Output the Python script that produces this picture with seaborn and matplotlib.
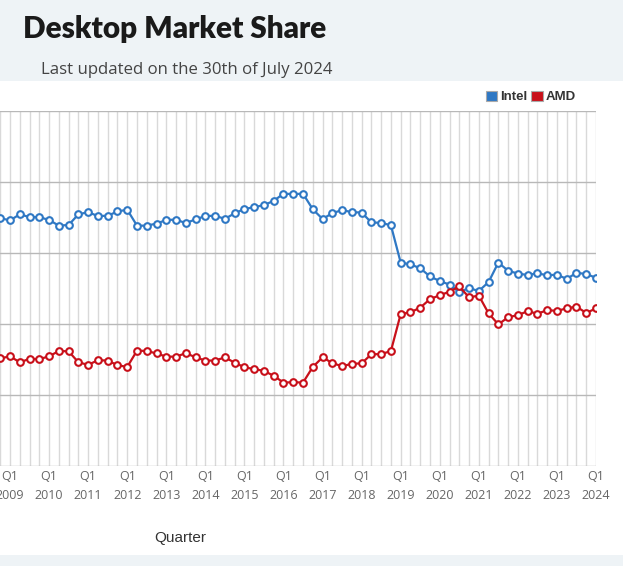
import pandas as pd
import numpy as np
import matplotlib.pyplot as plt
import seaborn as sns
from matplotlib.patches import Patch, Rectangle

# Quarterly desktop CPU share (%), Q4 2008 .. Q1 2024
quarters = ['Q4 2008'] + [f'Q{q} {y}' for y in range(2009, 2024) for q in (1, 2, 3, 4)] + ['Q1 2024']

intel = [69.8, 69.2, 70.9, 70.1, 70.1, 69.3, 67.7, 67.9, 70.9, 71.5,
         70.4, 70.5, 71.7, 72.2, 67.7, 67.7, 68.3, 69.3, 69.4, 68.4,
         69.5, 70.4, 70.5, 69.6, 71.2, 72.4, 72.9, 73.5, 74.7, 76.7,
         76.6, 76.7, 72.3, 69.6, 71.2, 72.1, 71.5, 71.4, 68.6, 68.5,
         67.8, 57.3, 56.8, 55.7, 53.4, 52.1, 51.1, 49.0, 50.1, 49.3,
         51.8, 57.3, 55.0, 54.2, 53.8, 54.3, 53.7, 53.9, 52.7, 54.4,
         54.1, 53.0]

amd = [30.3, 30.9, 29.2, 30.2, 30.1, 30.9, 32.4, 32.3, 29.2, 28.5,
       29.8, 29.7, 28.4, 27.9, 32.5, 32.4, 31.7, 30.8, 30.8, 31.8,
       30.6, 29.7, 29.7, 30.6, 29.1, 27.8, 27.3, 26.8, 25.4, 23.5,
       23.6, 23.5, 27.9, 30.6, 29.0, 28.1, 28.8, 28.9, 31.5, 31.5,
       32.4, 42.8, 43.3, 44.6, 47.0, 48.1, 49.1, 50.6, 47.5, 48.0,
       43.0, 39.9, 41.9, 42.5, 43.6, 42.9, 43.9, 43.7, 44.4, 44.9,
       43.1, 44.4]

brands = ['Intel', 'AMD']
colors = {'Intel': '#2f78c4', 'AMD': '#c8101a'}

df = pd.DataFrame({
    'idx': list(range(len(quarters))) * 2,
    'quarter': quarters * 2,
    'brand': ['Intel'] * len(intel) + ['AMD'] * len(amd),
    'share': intel + amd,
})

sns.set_style('white')
W, H = 623, 566
fig = plt.figure(figsize=(W / 100, H / 100), dpi=100)
fig.patch.set_facecolor('white')

# header / footer bands
fig.add_artist(Rectangle((0, 1 - 81 / H), 1, 81 / H, transform=fig.transFigure,
                         facecolor='#eef3f6', edgecolor='none', zorder=-5))
fig.add_artist(Rectangle((0, 0), 1, 11 / H, transform=fig.transFigure,
                         facecolor='#eef3f6', edgecolor='none', zorder=-5))

ax = fig.add_axes([0, 1 - 466 / H, 596 / W, 355 / H])
ax.set_facecolor('white')

for b in brands:
    sns.lineplot(data=df[df['brand'] == b], x='idx', y='share', color=colors[b],
                 marker='o', markersize=4.8, markerfacecolor='white',
                 markeredgecolor=colors[b], markeredgewidth=1.5,
                 linewidth=1.6, ax=ax, legend=False, zorder=3)

n = len(quarters)
ax.set_xlim(-0.03, n - 1)
ax.set_ylim(0, 100)
ax.set_yticks([0, 20, 40, 60, 80, 100])
ax.set_yticklabels([])
ax.set_xticks(range(n))
ax.set_xticklabels([q.replace(' ', '\n') if q.startswith('Q1') else '' for q in quarters],
                   fontsize=9, color='#666666', family='Open Sans', linespacing=1.55)
ax.tick_params(length=0, pad=3)
ax.grid(axis='x', color='#d9d9d9', linewidth=1)
ax.grid(axis='y', color='#b8b8b8', linewidth=1)
for s in ax.spines.values():
    s.set_visible(False)
ax.set_xlabel('')
ax.set_ylabel('')

fig.text(180 / W, 1 - 538 / H, 'Quarter', ha='center', va='center',
         fontsize=11, color='#333333', family='Liberation Sans')

fig.text(23 / W, 1 - 29 / H, 'Desktop Market Share', ha='left', va='center',
         fontsize=21.4, fontweight='heavy', color='#1a1a1a', family='Lato')
fig.text(41 / W, 1 - 70 / H, 'Last updated on the 30th of July 2024', ha='left', va='center',
         fontsize=12.1, color='#444444', family='Open Sans')

handles = [Patch(facecolor=colors[b], edgecolor='#aaaaaa', linewidth=0.8, label=b) for b in brands]
ax.legend(handles=handles, loc='center right', bbox_to_anchor=(576 / W, 1 - 97 / H),
          bbox_transform=fig.transFigure, ncol=2, frameon=False,
          handlelength=0.85, handleheight=0.85, handletextpad=0.25, columnspacing=0.3,
          borderpad=0, borderaxespad=0,
          prop={'family': 'Liberation Sans', 'weight': 'bold', 'size': 9.5},
          labelcolor='#333333')

fig.savefig('out.png', dpi=100)
